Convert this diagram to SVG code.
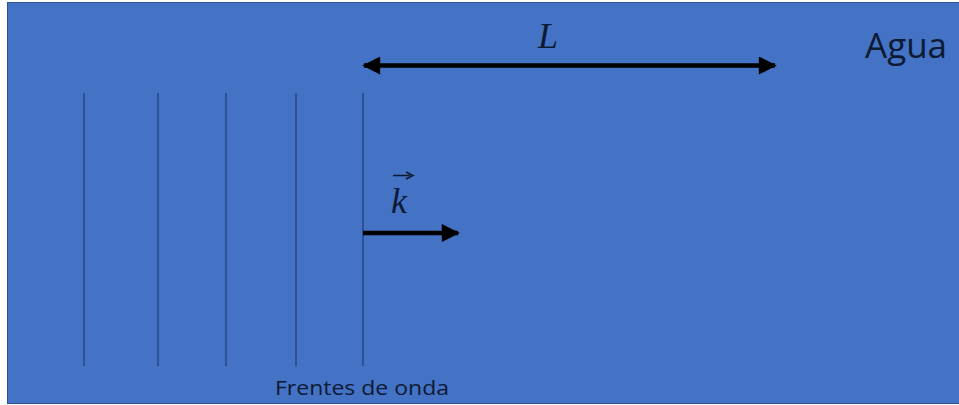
<svg xmlns="http://www.w3.org/2000/svg" width="959" height="405" viewBox="0 0 959 405">
<style>
.front{stroke:#1f3d7a;stroke-width:1.2}
.arrow{stroke:#000;stroke-width:4.5;fill:none}
.math{font-family:"Liberation Serif",serif;font-style:italic;fill:#0d1a33}
.lbl{font-family:"Open Sans","Liberation Sans",sans-serif;fill:#0d1a33}
</style>
<defs>
<marker id="ah" viewBox="0 0 10 10" refX="9" refY="5" markerWidth="4.2" markerHeight="4" orient="auto-start-reverse" markerUnits="strokeWidth">
<path d="M0,0 L10,5 L0,10 z" fill="#000"/>
</marker>
</defs>
<rect width="959" height="405" fill="#ffffff"/>
<g id="agua">
<rect x="7.5" y="2.5" width="952" height="401" fill="#4472c4" stroke="#2f528f" stroke-width="1"/>
<text class="lbl" x="865" y="58" font-size="35">Agua</text>
</g>
<g id="frentes">
<line class="front" x1="84" y1="93" x2="84" y2="366"/>
<line class="front" x1="158" y1="93" x2="158" y2="366"/>
<line class="front" x1="226" y1="93" x2="226" y2="366"/>
<line class="front" x1="296" y1="93" x2="296" y2="366"/>
<line class="front" x1="363" y1="93" x2="363" y2="366"/>
<text class="lbl" x="275" y="395" font-size="20" textLength="174" lengthAdjust="spacingAndGlyphs">Frentes de onda</text>
</g>
<g id="connectors">
<line class="arrow" x1="364" y1="65.5" x2="775" y2="65.5" marker-start="url(#ah)" marker-end="url(#ah)"/>
<line class="arrow" x1="363" y1="233" x2="458" y2="233" marker-end="url(#ah)"/>
</g>
<g id="labelL">
<text class="math" x="538" y="48" font-size="36">L</text>
</g>
<g id="labelK">
<text class="math" x="391" y="213" font-size="36">k</text>
<line x1="393" y1="175.5" x2="410" y2="175.5" stroke="#0d1a33" stroke-width="1.5"/>
<path d="M406,172 L413,175.5 L406,179" fill="none" stroke="#0d1a33" stroke-width="1.5"/>
</g>
</svg>
